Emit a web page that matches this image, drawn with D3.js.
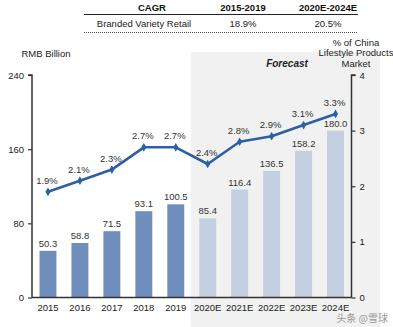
<!DOCTYPE html>
<html>
<head>
<meta charset="utf-8">
<script src="https://cdn.jsdelivr.net/npm/d3@7"></script>
<style>
  body { margin: 0; background: #fff; }
  svg { display: block; font-family: "Liberation Sans", Arial, sans-serif; }
</style>
</head>
<body>
<svg width="393" height="327"></svg>
<script>
"use strict";

var years = ["2015", "2016", "2017", "2018", "2019", "2020E", "2021E", "2022E", "2023E", "2024E"];
var forecastYears = ["2020E", "2021E", "2022E", "2023E", "2024E"];
var retail = [50.3, 58.8, 71.5, 93.1, 100.5, 85.4, 116.4, 136.5, 158.2, 180.0];
var share = [1.9, 2.1, 2.3, 2.7, 2.7, 2.4, 2.8, 2.9, 3.1, 3.3];
var leftTicks = [0, 80, 160, 240];
var rightTicks = [0, 1, 2, 3, 4];
var cagrHead = ["CAGR", "2015-2019", "2020E-2024E"];
var cagrRow = ["Branded Variety Retail", "18.9%", "20.5%"];

var Draw = (function() {
  var svg = d3.select("svg");
  var left = 32, right = 351.5, top = 75, bottom = 297.5;
  var fs = 9.5;

  var x = d3.scaleBand().domain(years).range([left, right]).paddingInner(0.47).paddingOuter(0.235);
  var y = d3.scaleLinear().domain([0, 240]).range([bottom, top]);
  var y2 = d3.scaleLinear().domain([0, 4]).range([bottom, top]);

  // forecast shading
  var fx = x(forecastYears[0]) - x.step() * x.paddingInner() / 2 - 1;
  svg.append("rect")
      .attr("x", fx).attr("y", 52)
      .attr("width", 380 - fx).attr("height", 327 - 52)
      .attr("fill", "#f1f1f1");

  svg.append("text")
      .attr("x", 287).attr("y", 67)
      .attr("text-anchor", "middle")
      .attr("font-size", 10).attr("font-weight", "bold").attr("font-style", "italic")
      .attr("fill", "#222")
      .text("Forecast");

  // CAGR table
  var colX = [152, 243, 328];
  svg.selectAll("text.head")
    .data(cagrHead)
    .join("text")
      .attr("class", "head")
      .attr("x", (d, i) => colX[i]).attr("y", 10.5)
      .attr("text-anchor", "middle")
      .attr("font-size", fs).attr("font-weight", "bold")
      .attr("fill", "#111")
      .text(d => d);
  svg.append("line")
      .attr("x1", 84).attr("x2", 358).attr("y1", 14.5).attr("y2", 14.5)
      .attr("stroke", "#222").attr("stroke-width", 1.2);
  svg.selectAll("text.row")
    .data(cagrRow)
    .join("text")
      .attr("class", "row")
      .attr("x", (d, i) => i == 0 ? 144 : colX[i]).attr("y", 26.5)
      .attr("text-anchor", "middle")
      .attr("font-size", fs)
      .attr("fill", "#222")
      .text(d => d);
  svg.append("line")
      .attr("x1", 84).attr("x2", 358).attr("y1", 32.5).attr("y2", 32.5)
      .attr("stroke", "#444").attr("stroke-width", 1)
      .attr("stroke-dasharray", "1,1");

  // axis titles
  svg.append("text")
      .attr("x", 46).attr("y", 56.5)
      .attr("text-anchor", "middle").attr("font-size", fs).attr("fill", "#222")
      .text("RMB Billion");
  svg.append("text")
      .attr("text-anchor", "middle").attr("font-size", fs).attr("fill", "#222")
    .selectAll("tspan")
    .data(["% of China", "Lifestyle Products", "Market"])
    .join("tspan")
      .attr("x", 356)
      .attr("y", (d, i) => 45.5 + i * 10.6)
      .text(d => d);

  // bars
  svg.selectAll("rect.bar")
    .data(retail)
    .join("rect")
      .attr("class", "bar")
      .attr("x", (d, i) => x(years[i]))
      .attr("y", d => y(d))
      .attr("width", x.bandwidth())
      .attr("height", d => bottom - y(d))
      .attr("fill", (d, i) => forecastYears.includes(years[i]) ? "#c4cfdf" : "#6f8fba");

  svg.selectAll("text.val")
    .data(retail)
    .join("text")
      .attr("class", "val")
      .attr("x", (d, i) => x(years[i]) + x.bandwidth() / 2)
      .attr("y", d => y(d) - 4)
      .attr("text-anchor", "middle")
      .attr("font-size", fs).attr("fill", "#333")
      .text(d => d.toFixed(1));

  // axes
  var gl = svg.append("g")
      .attr("transform", `translate(${left},0)`)
      .call(d3.axisLeft(y).tickValues(leftTicks).tickSize(4).tickPadding(4));
  var gr = svg.append("g")
      .attr("transform", `translate(${right},0)`)
      .call(d3.axisRight(y2).tickValues(rightTicks).tickFormat(d3.format("d")).tickSize(4).tickPadding(4));
  var gb = svg.append("g")
      .attr("transform", `translate(0,${bottom})`)
      .call(d3.axisBottom(x).tickSize(0).tickPadding(7));

  [gl, gr, gb].forEach(function(g) {
    g.selectAll(".domain").attr("stroke", "#333").attr("stroke-width", 1.5);
    g.selectAll(".tick line").attr("stroke", "#333").attr("stroke-width", 1.2);
    g.selectAll("text").attr("font-size", fs).attr("fill", "#222")
      .attr("font-family", "'Liberation Sans', Arial, sans-serif");
  });
  gl.select(".domain").attr("d", `M-4,${top}H0V${bottom}`);
  gr.select(".domain").attr("d", `M4,${top}H0V${bottom}`);
  gb.select(".domain").attr("d", `M${left},0H${right}`);

  // share line
  var line = d3.line()
      .x((d, i) => x(years[i]) + x.bandwidth() / 2)
      .y(d => y2(d));
  svg.append("path")
      .datum(share)
      .attr("d", line)
      .attr("fill", "none")
      .attr("stroke", "#2c5fa4")
      .attr("stroke-width", 2.6)
      .attr("stroke-linejoin", "round");

  svg.selectAll("path.mk")
    .data(share)
    .join("path")
      .attr("class", "mk")
      .attr("d", d3.symbol(d3.symbolDiamond, 22))
      .attr("transform", (d, i) => `translate(${x(years[i]) + x.bandwidth() / 2},${y2(d)})`)
      .attr("fill", "#2c5fa4");

  svg.selectAll("text.pct")
    .data(share)
    .join("text")
      .attr("class", "pct")
      .attr("x", (d, i) => x(years[i]) + x.bandwidth() / 2 - 1)
      .attr("y", d => y2(d) - 8)
      .attr("text-anchor", "middle")
      .attr("font-size", fs).attr("fill", "#333")
      .text(d => d.toFixed(1) + "%");

  // watermark
  svg.append("text")
      .attr("x", 388).attr("y", 322)
      .attr("text-anchor", "end")
      .attr("font-size", 10)
      .attr("font-family", "'Noto Sans CJK SC', sans-serif")
      .attr("fill", "#999")
      .text("头条 @雪球");
});

Draw();
</script>
</body>
</html>
